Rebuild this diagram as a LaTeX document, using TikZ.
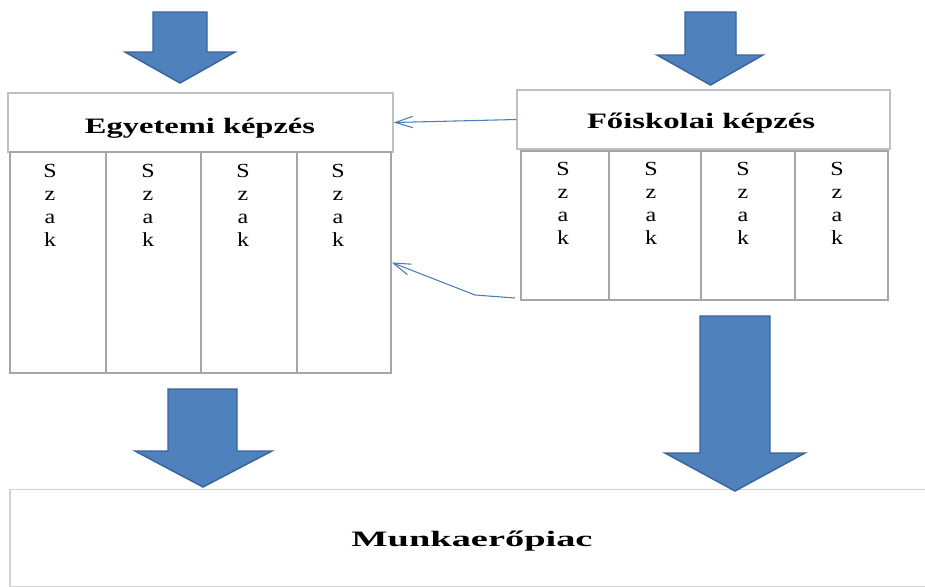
\documentclass[tikz,border=0pt]{standalone}
\usepackage{fontspec}
\setmainfont{Liberation Serif}
\usetikzlibrary{arrows.meta}
\definecolor{arrfill}{HTML}{4F81BD}
\definecolor{arrline}{HTML}{3A659C}
\definecolor{thinblue}{HTML}{4A7EBB}
\definecolor{boxline}{HTML}{C0C0C0}
\definecolor{colline}{HTML}{A6A6A6}
\newcommand{\wtext}[2]{\resizebox{#1}{\height}{#2}}
\begin{document}
\begin{tikzpicture}[x=0.75pt,y=-0.75pt,
  titlebox/.style={draw=boxline,line width=1.1pt,fill=white,inner sep=0pt,minimum height=44.25pt},
  colbox/.style={draw=colline,line width=1.1pt,fill=white,inner sep=0pt},
  titletext/.style={anchor=base,inner sep=0pt,font=\fontsize{16.5pt}{19pt}\selectfont\bfseries},
  bigtext/.style={anchor=base,inner sep=0pt,font=\fontsize{16.5pt}{19pt}\selectfont\bfseries},
  letter/.style={anchor=base,inner sep=0pt,font=\fontsize{15pt}{17pt}\selectfont},
  bigarrow/.style={fill=arrfill,draw=arrline,line width=1.1pt,line join=miter},
  thinarrow/.style={draw=thinblue,line width=0.8pt,-{Straight Barb[length=13pt,width=8.5pt,line width=0.8pt]}}]
\useasboundingbox (0,0) rectangle (925,586);
\clip (0,0) rectangle (925,586);
\fill[white] (0,0) rectangle (925,586);

% title boxes
\node[titlebox,minimum width=288.75pt] (E) at (200.5,122.5) {};
\node[titlebox,minimum width=279.75pt] (F) at (703.5,119.5) {};
\node[titletext] (Et) at (200,133) {\wtext{172.5pt}{Egyetemi képzés}};
\node[titletext] (Ft) at (701,128) {\wtext{171pt}{Főiskolai képzés}};

% left columns
\node[colbox,minimum width=72pt,minimum height=165.75pt] (L1) at (58,262.5) {};
\node[colbox,minimum width=71.25pt,minimum height=165.75pt] (L2) at (153.5,262.5) {};
\node[colbox,minimum width=72pt,minimum height=165.75pt] (L3) at (249,262.5) {};
\node[colbox,minimum width=70.5pt,minimum height=165.75pt] (L4) at (344,262.5) {};

% right columns
\node[colbox,minimum width=66pt,minimum height=111.75pt] (R1) at (565,225.5) {};
\node[colbox,minimum width=69pt,minimum height=111.75pt] (R2) at (655,225.5) {};
\node[colbox,minimum width=70.5pt,minimum height=111.75pt] (R3) at (748,225.5) {};
\node[colbox,minimum width=69.75pt,minimum height=111.75pt] (R4) at (841.5,225.5) {};

% letters
\foreach \cx [count=\c] in {50,148,243,338}{
  \foreach \ch [count=\r] in {S,z,a,k}{
    \node[letter] (LL\c\r) at (\cx,177+23*\r-23) {\scalebox{1.2}[1]{\ch}};
  }
}
\foreach \cx [count=\c] in {563,651,743,837}{
  \foreach \ch [count=\r] in {S,z,a,k}{
    \node[letter] (RL\c\r) at (\cx,175+23*\r-23) {\scalebox{1.2}[1]{\ch}};
  }
}

% bottom box
\node[titlebox,draw=boxline!70,minimum width=701.25pt,minimum height=73pt] (M) at (477.5,538) {};
\node[bigtext] (Mt) at (472,546) {\wtext{180.75pt}{Munkaerőpiac}};

% thin connectors
\draw[thinarrow] (F.west) -- (E.east);
\coordinate (s2) at (515,298);
\coordinate (k2) at (475,295);
\draw[thinarrow] (s2) -- (k2) -- (L4.east);

% block arrows
\filldraw[bigarrow] (153,12) -- (207,12) -- (207,52) -- (235,52) -- (180,83) -- (125,52) -- (153,52) -- cycle;
\filldraw[bigarrow] (685,12) -- (736,12) -- (736,55) -- (763,55) -- (710.5,85) -- (657,55) -- (685,55) -- cycle;
\filldraw[bigarrow] (168,389) -- (237,389) -- (237,451) -- (272,451) -- (203,487) -- (135,451) -- (168,451) -- cycle;
\filldraw[bigarrow] (700,316) -- (770,316) -- (770,453) -- (805,453) -- (735,491) -- (665,453) -- (700,453) -- cycle;
\end{tikzpicture}
\end{document}
